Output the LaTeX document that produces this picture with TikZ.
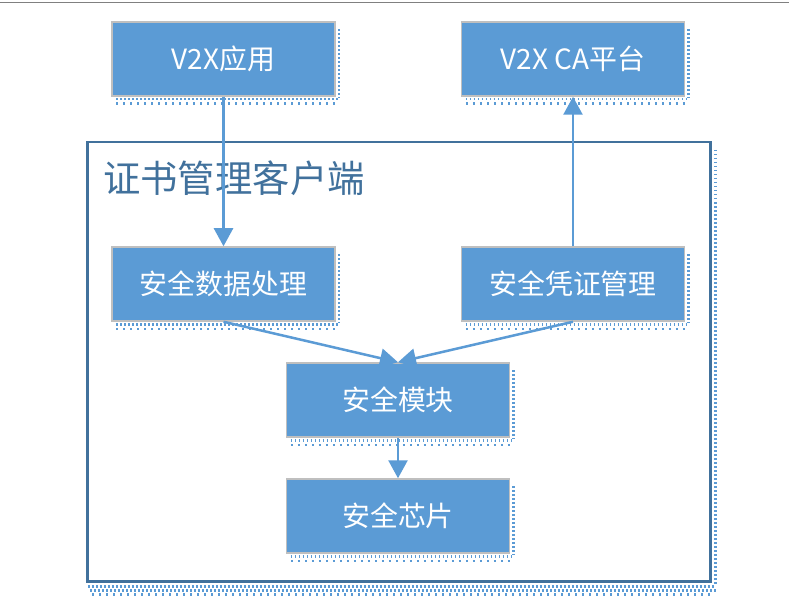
\documentclass[tikz,border=0pt]{standalone}
\usepackage{fontspec}
\setmainfont{Noto Sans CJK SC}
\usetikzlibrary{calc,arrows.meta}
\definecolor{boxblue}{HTML}{5B9BD5}
\definecolor{darkblue}{HTML}{41719C}
\definecolor{boxedge}{HTML}{BFBFBF}
\tikzset{
  blk/.style={rectangle, fill=boxblue, draw=boxedge, line width=1.5bp,
    minimum width=223bp, minimum height=74bp, text=white, inner sep=0pt,
    font=\fontsize{28}{31}\selectfont},
  shd/.style={draw=boxblue, line width=2.5bp, dash pattern=on 1.5bp off 2.5bp},
  shd2/.style={draw=boxblue, line width=2.5bp, dash pattern=on 2bp off 5bp},
  conn/.style={draw=boxblue, line width=2.5bp},
  arr/.style={conn, -{Triangle[width=19bp,length=18bp]}},
}
\newcommand{\boxshadow}[1]{%
  \draw[shd] ($(#1.north east)+(3,8)$) -- ($(#1.south east)+(3,1)$);
  \draw[shd] ($(#1.south west)+(5,2.5)$) -- ($(#1.south east)+(3,2.5)$);
  \draw[shd2] ($(#1.south west)+(5,7)$) -- ($(#1.south east)+(0,7)$);
}
\begin{document}
\begin{tikzpicture}[x=1bp,y=-1bp]
\useasboundingbox (0,0) rectangle (789,610);
\fill[white] (0,0) rectangle (789,610);
\coordinate (tl) at (0,2.5);
\coordinate (tr) at (789,2.5);
\draw[gray, line width=1.5bp] (tl) -- (tr);

% container
\node[rectangle, draw=darkblue, line width=2.5bp, minimum width=623bp, minimum height=439bp, inner sep=0pt, anchor=north west] (client) at (86,141) {};
\draw[shd] ($(client.north east)+(4,9)$) -- ($(client.south east)+(4,2)$);
\draw[shd] ($(client.south west)+(2,4)$) -- ($(client.south east)+(4,4)$);
\draw[shd] ($(client.south west)+(4,8)$) -- ($(client.south east)+(4,8)$);
\draw[shd2] ($(client.south west)+(6,12)$) -- ($(client.south east)+(2,12)$);
\node[anchor=west, text=darkblue, inner sep=0pt, font=\fontsize{37.5}{41}\selectfont] (title) at (103,178) {证书管理客户端};

% boxes
\node[blk] (app) at (223.5,59) {V2X应用};
\node[blk] (ca) at (573,59) {V2X CA平台};
\node[blk] (data) at (223.5,284) {安全数据处理};
\node[blk] (cred) at (573,284) {安全凭证管理};
\node[blk] (mod) at (398,400) {安全模块};
\node[blk] (chip) at (398,516) {安全芯片};
\boxshadow{app}
\boxshadow{ca}
\boxshadow{data}
\boxshadow{cred}
\boxshadow{mod}
\boxshadow{chip}

% connectors
\draw[arr] (app.south) -- (data.north);
\draw[arr] (cred.north) -- (ca.south);
\draw[arr] (data.south) -- (mod.north);
\draw[arr] (cred.south) -- (mod.north);
\draw[arr] (mod.south) -- (chip.north);
\end{tikzpicture}
\end{document}
